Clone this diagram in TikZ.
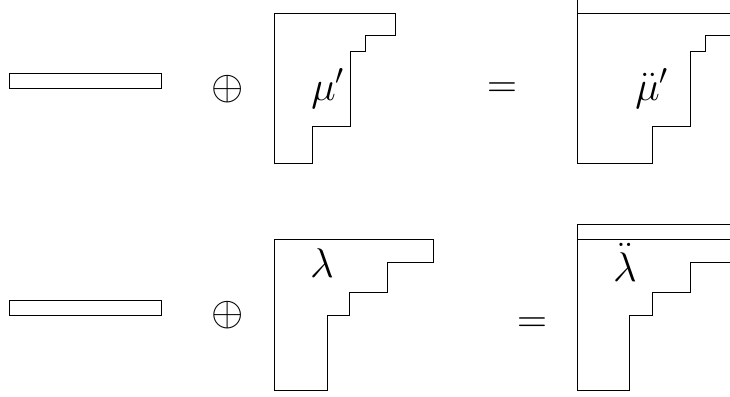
\documentclass[tikz,border=0pt]{standalone}
\usetikzlibrary{calc}
\tikzset{
  diag/.style={line width=0.5pt},
  sym/.style={inner sep=0pt, font=\huge, anchor=base}
}

\begin{document}
\begin{tikzpicture}[x=0.5pt, y=-0.5pt]
		%%%%% START %%%%%
		\clip (0,0) rectangle (730,397);
		
		% first line
		\draw[diag] (9,73) rectangle (161,88);
		\node[sym] (plusA) at (228,99) {$\oplus$};
		\draw[diag] (274,13) -- (395,13) -- (395,35) -- (365,35) -- (365,51) -- (350,51) -- (350,126) -- (312,126) -- (312,163) -- (274,163) -- cycle;
		\node[sym, anchor=base west] (mu) at (311,100) {$\mu'$};
		\node[sym] (eqA) at (502,97) {$=$};
		\draw[diag] (577,-2) rectangle (770,13);
		\draw[diag] (577,13) -- (735,13) -- (735,35) -- (705,35) -- (705,51) -- (690,51) -- (690,126) -- (652,126) -- (652,163) -- (577,163) -- cycle;
		\node[sym, anchor=base west] (mudd) at (635,100) {$\ddot{\mu}'$};
		
		% second line
		\draw[diag] (9,300) rectangle (161,315);
		\node[sym] (plusB) at (228,325) {$\oplus$};
		\draw[diag] (274,239) -- (433,239) -- (433,262) -- (387,262) -- (387,292) -- (349,292) -- (349,315) -- (327,315) -- (327,390) -- (274,390) -- cycle;
		\node[sym, anchor=center] (lam) at (322,263) {$\lambda$};
		\node[sym] (eqB) at (532,332) {$=$};
		\draw[diag] (577,224) rectangle (770,239);
		\draw[diag] (577,239) -- (736,239) -- (736,262) -- (690,262) -- (690,292) -- (652,292) -- (652,315) -- (629,315) -- (629,390) -- (577,390) -- cycle;
		\node[sym, anchor=center] (lamdd) at (625,262) {$\ddot{\lambda}$};
		
		%%%%% END %%%%%
\end{tikzpicture}
\end{document}
